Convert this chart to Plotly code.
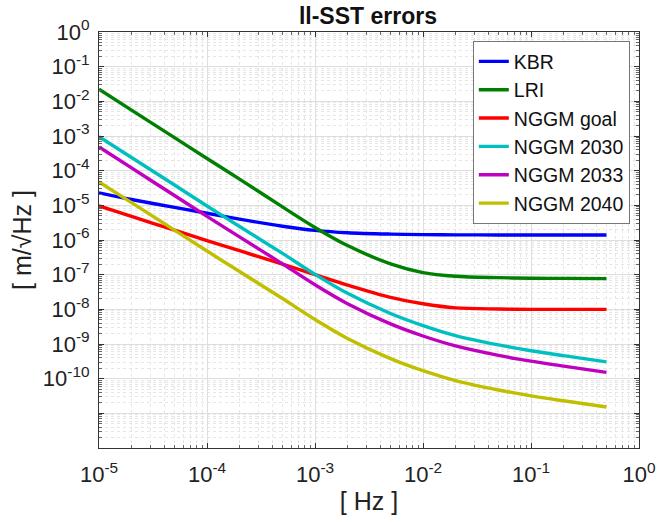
import plotly.graph_objects as go

freq = [1e-5, 2e-5, 5e-5, 1e-4, 2e-4, 5e-4, 1e-3, 2e-3, 5e-3, 1e-2, 2e-2, 5e-2, 1e-1, 2e-1, 5e-1]

kbr = [2.3e-5, 1.47e-5, 8.7e-6, 5.9e-6, 4.0e-6, 2.5e-6, 1.9e-6, 1.62e-6, 1.48e-6, 1.43e-6, 1.41e-6, 1.4e-6, 1.4e-6, 1.4e-6, 1.4e-6]
lri = [2.25e-2, 5.6e-3, 9.0e-4, 2.25e-4, 5.7e-5, 9.0e-6, 2.3e-6, 6.9e-7, 2.05e-7, 1.15e-7, 9.0e-8, 8.2e-8, 7.9e-8, 7.8e-8, 7.7e-8]
nggm_goal = [9.6e-6, 4.8e-6, 1.92e-6, 9.6e-7, 4.9e-7, 2.0e-7, 1.0e-7, 5.0e-8, 2.2e-8, 1.45e-8, 1.1e-8, 1.02e-8, 1.0e-8, 1.0e-8, 1.0e-8]
nggm_2030 = [9.6e-4, 2.4e-4, 3.85e-5, 9.6e-6, 2.45e-6, 4.1e-7, 1.02e-7, 2.9e-8, 7.6e-9, 3.4e-9, 1.75e-9, 9.4e-10, 6.4e-10, 4.6e-10, 3.05e-10]
nggm_2033 = [4.85e-4, 1.2e-4, 1.92e-5, 4.8e-6, 1.23e-6, 2.05e-7, 5.1e-8, 1.45e-8, 3.8e-9, 1.7e-9, 8.8e-10, 4.7e-10, 3.2e-10, 2.3e-10, 1.52e-10]
nggm_2040 = [4.75e-5, 1.2e-5, 1.93e-6, 4.8e-7, 1.23e-7, 2.05e-8, 5.1e-9, 1.45e-9, 3.8e-10, 1.7e-10, 8.8e-11, 4.7e-11, 3.2e-11, 2.3e-11, 1.52e-11]

names = ["KBR", "LRI", "NGGM goal", "NGGM 2030", "NGGM 2033", "NGGM 2040"]
series = [kbr, lri, nggm_goal, nggm_2030, nggm_2033, nggm_2040]
colors = ["#0000ff", "#008000", "#ff0000", "#00bfbf", "#bf00bf", "#bfbf00"]

x_decades = [-5, -4, -3, -2, -1, 0]
y_decades = list(range(0, -13, -1))
x_tickvals = [10.0 ** d for d in x_decades]
x_ticktext = ["10<sup>%d</sup>" % d for d in x_decades]
y_tickvals = [10.0 ** d for d in y_decades]
y_ticktext = ["10<sup>%d</sup>" % d if d >= -10 else "" for d in y_decades]

x_minor = [m * 10.0 ** d for d in x_decades[:-1] for m in range(2, 10)]
y_minor = [m * 10.0 ** d for d in y_decades[1:] for m in range(2, 10)]

FONT = "Liberation Sans, Arial, Helvetica, sans-serif"

fig = go.Figure()
for n, s, c in zip(names, series, colors):
    fig.add_trace(go.Scatter(x=freq, y=s, name=n, mode="lines",
                             line=dict(color=c, width=3.4, shape="spline", smoothing=0.9)))


def axis_style(minor_vals):
    return dict(
        type="log", showline=True, linecolor="#333333", linewidth=1, mirror="allticks",
        ticks="inside", ticklen=5, tickcolor="#333333",
        showgrid=True, gridcolor="#dedede", gridwidth=1,
        zeroline=False, tickfont=dict(family=FONT, size=22, color="#222222"),
        minor=dict(tickmode="array", tickvals=minor_vals, ticks="inside", ticklen=3,
                   tickcolor="#666666", showgrid=True, gridcolor="#e6e6e6",
                   griddash="dot", gridwidth=1),
    )


fig.update_xaxes(range=[-5, 0], tickmode="array", tickvals=x_tickvals, ticktext=x_ticktext,
                 ticklabelstandoff=7,
                 title=dict(text="[ Hz ]", font=dict(family=FONT, size=25, color="#222222"), standoff=6),
                 **axis_style(x_minor))
fig.update_yaxes(range=[-12, 0], tickmode="array", tickvals=y_tickvals, ticktext=y_ticktext,
                 ticklabelstandoff=4,
                 title=dict(text="[ m/√Hz ]", font=dict(family=FONT, size=25, color="#222222"), standoff=4),
                 **axis_style(y_minor))

fig.update_layout(
    width=657, height=524,
    margin=dict(l=99, r=18, t=32, b=76, autoexpand=False),
    paper_bgcolor="white", plot_bgcolor="white",
    title=dict(text="<b>ll-SST errors</b>", x=0.56, xanchor="center", y=0.985, yanchor="top",
               font=dict(family=FONT, size=23, color="#111111")),
    legend=dict(x=0.983, xanchor="right", y=0.978, yanchor="top",
                bgcolor="white", bordercolor="#777777", borderwidth=1,
                font=dict(family=FONT, size=19.5, color="#111111"),
                tracegroupgap=0, itemwidth=30),
    showlegend=True,
)

fig.write_html("out.html")
